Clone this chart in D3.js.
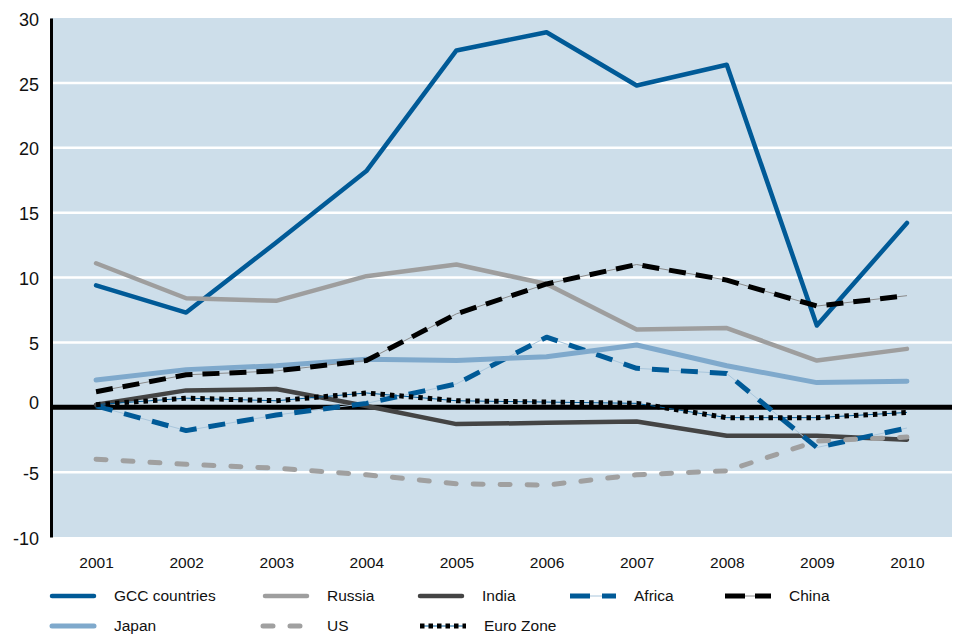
<!DOCTYPE html>
<html><head><meta charset="utf-8">
<script src="https://cdn.jsdelivr.net/npm/d3@7/dist/d3.min.js"></script>
<style>
body{margin:0;background:#fff;}
text{font-family:"Liberation Sans",Arial,Helvetica,sans-serif;fill:#111;}
</style></head>
<body><svg id="c" width="955" height="634"></svg>
<script>
const years = ["2001","2002","2003","2004","2005","2006","2007","2008","2009","2010"];
const yTicks = [-10,-5,0,5,10,15,20,25,30];
const gcc    = [9.4, 7.3, 12.7, 18.2, 27.5, 28.9, 24.8, 26.4, 6.3, 14.2];
const russia = [11.1, 8.4, 8.2, 10.1, 11.0, 9.5, 6.0, 6.1, 3.6, 4.5];
const india  = [0.2, 1.3, 1.4, 0.1, -1.3, -1.2, -1.1, -2.2, -2.2, -2.5];
const africa = [0.1, -1.8, -0.6, 0.3, 1.8, 5.4, 3.0, 2.6, -3.1, -1.6];
const china  = [1.2, 2.5, 2.8, 3.6, 7.2, 9.5, 11.0, 9.8, 7.8, 8.6];
const japan  = [2.1, 2.9, 3.2, 3.7, 3.6, 3.9, 4.8, 3.2, 1.9, 2.0];
const us     = [-4.0, -4.4, -4.7, -5.2, -5.9, -6.0, -5.2, -4.9, -2.6, -2.3];
const euro   = [0.2, 0.7, 0.5, 1.1, 0.5, 0.4, 0.3, -0.8, -0.8, -0.4];

const styles = {
  gcc:{color:"#005a97",w:4.5},
  russia:{color:"#9e9e9e",w:4.5},
  india:{color:"#444444",w:4.5},
  africa:{color:"#005a97",w:5,dash:"17,12",under:"#a9c6dc"},
  china:{color:"#000000",w:5,dash:"17,10",under:"#8a8a8a"},
  japan:{color:"#7fa9cc",w:5},
  us:{color:"#a0a0a0",w:5,dash:"10,17",cap:"round"},
  euro:{color:"#000000",w:5,dash:"4.5,5",under:"#005a97"}
};
const series = [
  {key:"gcc",name:"GCC countries",v:gcc},
  {key:"russia",name:"Russia",v:russia},
  {key:"india",name:"India",v:india},
  {key:"africa",name:"Africa",v:africa},
  {key:"china",name:"China",v:china},
  {key:"japan",name:"Japan",v:japan},
  {key:"us",name:"US",v:us},
  {key:"euro",name:"Euro Zone",v:euro}
];

const svg = d3.select("#c");
const L=51, R=952, T=18, B=537;
const x = d3.scalePoint().domain(years).range([L,R]).padding(0.5);
const y = d3.scaleLinear().domain([-10,30]).range([B,T]);

svg.append("rect").attr("x",L).attr("y",T).attr("width",R-L).attr("height",B-T).attr("fill","#cddeea");

// gridlines
svg.append("g").selectAll("line").data(yTicks.filter(d=>d!==0&&d!==-10&&d!==30)).join("line")
  .attr("x1",L).attr("x2",R).attr("y1",d=>y(d)).attr("y2",d=>y(d))
  .attr("stroke","#fff").attr("stroke-width",2.5);

// y axis
const ya = svg.append("g").attr("transform",`translate(${L},0)`)
  .call(d3.axisLeft(y).tickValues(yTicks).tickFormat(d=>String(d)).tickSize(0).tickPadding(12));
ya.select(".domain").attr("stroke","#000").attr("stroke-width",3);
ya.selectAll("text").attr("font-size",18).attr("font-family","Liberation Sans,Arial,sans-serif").attr("fill","#111").attr("dy","0.4em");
ya.selectAll("text").filter(d=>d===0).attr("dy","0.05em");

// x axis labels
const xa = svg.append("g").attr("transform",`translate(0,${B})`)
  .call(d3.axisBottom(x).tickSize(0).tickPadding(20));
xa.select(".domain").remove();
xa.selectAll("text").attr("font-size",15.5).attr("font-family","Liberation Sans,Arial,sans-serif").attr("fill","#111");

// zero line
svg.append("line").attr("x1",L).attr("x2",R).attr("y1",y(0)).attr("y2",y(0))
  .attr("stroke","#000").attr("stroke-width",5);

const line = d3.line().x((d,i)=>x(years[i])).y(d=>y(d));
const order = ["gcc","russia","india","africa","japan","us","china","euro"];
order.forEach(k=>{
  const s = series.find(d=>d.key===k), st=styles[k];
  const g = svg.append("g");
  if(st.under){
    g.append("path").attr("d",line(s.v)).attr("fill","none").attr("stroke",st.under).attr("stroke-width",1);
  }
  g.append("path").attr("d",line(s.v)).attr("fill","none").attr("stroke",st.color)
    .attr("stroke-width",st.w).attr("stroke-dasharray",st.dash||null)
    .attr("stroke-linecap",st.cap||(st.dash?"butt":"round")).attr("stroke-linejoin","round");
});

// legend
const legPos = [
  {k:"gcc",x:50,y:596},{k:"russia",x:263,y:596},{k:"india",x:418,y:596},{k:"africa",x:570,y:596},{k:"china",x:725,y:596},
  {k:"japan",x:50,y:626},{k:"us",x:263,y:626},{k:"euro",x:420,y:626}
];
const legDash = {africa:"20,12",china:"20,10",us:"10,17",euro:"4.5,4"};
legPos.forEach(p=>{
  const s = series.find(d=>d.key===p.k), st=styles[p.k];
  const g = svg.append("g");
  const x1=p.x, x2=p.x+46;
  if(st.under) g.append("line").attr("x1",x1).attr("x2",x2).attr("y1",p.y).attr("y2",p.y).attr("stroke",st.under).attr("stroke-width",1);
  g.append("line").attr("x1",x1+(st.dash?0:2)).attr("x2",x2-(st.dash?0:2)).attr("y1",p.y).attr("y2",p.y)
    .attr("stroke",st.color).attr("stroke-width",st.w)
    .attr("stroke-dasharray",legDash[p.k]||null)
    .attr("stroke-linecap",st.cap||(st.dash?"butt":"round"));
  g.append("text").attr("x",p.x+64).attr("y",p.y).attr("dy","0.35em").attr("font-size",15.5).text(s.name);
});
</script></body></html>
